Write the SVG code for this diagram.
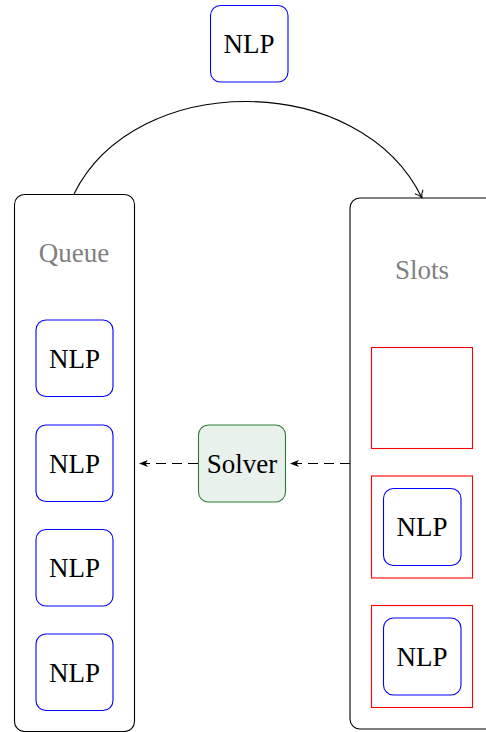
<svg xmlns="http://www.w3.org/2000/svg" width="486" height="732" viewBox="0 0 486 732">
<style>
.cont{fill:#fff;stroke:#000;stroke-width:1.1}
.nlp{fill:#fff;stroke:#0000ff;stroke-width:1.1}
.slot{fill:none;stroke:#ff0000;stroke-width:1.1}
.t{font-family:"Liberation Serif","Times New Roman",serif;font-size:27px;text-anchor:middle;fill:#000}
.lbl{fill:#808080}
.dash{fill:none;stroke:#000;stroke-width:1.1;stroke-dasharray:10 6}
</style>
<defs>
<marker id="open" markerWidth="14" markerHeight="14" refX="10" refY="7" orient="auto" markerUnits="userSpaceOnUse">
<path d="M3,2.5 Q6,6 10,7 Q6,8 3,11.5" fill="none" stroke="#000" stroke-width="1"/>
</marker>
<marker id="stealth" markerWidth="12" markerHeight="10" refX="9" refY="5" orient="auto" markerUnits="userSpaceOnUse">
<path d="M0,1.5 L9,5 L0,8.5 L2.5,5 Z" fill="#000"/>
</marker>
</defs>
<g id="queue">
<rect class="cont" x="14.5" y="194.5" width="120" height="537" rx="10"/>
<text class="t lbl" x="74" y="262">Queue</text>
</g>
<g id="slots">
<rect class="cont" x="350" y="198" width="145" height="531" rx="10"/>
<text class="t lbl" x="422" y="279">Slots</text>
</g>
<g id="slot1"><rect class="slot" x="371.5" y="347.5" width="101" height="101"/></g>
<g id="slot2"><rect class="slot" x="371.5" y="476" width="101" height="102"/></g>
<g id="slot3"><rect class="slot" x="371.5" y="605.5" width="101" height="102"/></g>
<g id="nlp-top">
<rect class="nlp" x="210.5" y="5.5" width="77.5" height="76.5" rx="10"/>
<text class="t" x="249" y="53">NLP</text>
</g>
<g id="q1"><rect class="nlp" x="36" y="320" width="77" height="76.5" rx="10"/><text class="t" x="74.5" y="367.5">NLP</text></g>
<g id="q2"><rect class="nlp" x="36" y="425" width="77" height="76.5" rx="10"/><text class="t" x="74.5" y="472.5">NLP</text></g>
<g id="q3"><rect class="nlp" x="36" y="529.5" width="77" height="76.5" rx="10"/><text class="t" x="74.5" y="577">NLP</text></g>
<g id="q4"><rect class="nlp" x="36" y="634" width="77" height="76.5" rx="10"/><text class="t" x="74.5" y="681.5">NLP</text></g>
<g id="s2"><rect class="nlp" x="383.5" y="488.5" width="77.5" height="77" rx="10"/><text class="t" x="422" y="536">NLP</text></g>
<g id="s3"><rect class="nlp" x="383.5" y="618" width="77.5" height="77" rx="10"/><text class="t" x="422" y="665.5">NLP</text></g>
<g id="solver">
<rect x="198.5" y="425" width="87" height="77" rx="10" fill="#e8f1eb" stroke="#2f7d32" stroke-width="1.1"/>
<text class="t" x="242" y="473">Solver</text>
</g>
<g id="connectors">
<path d="M74,194 C135,70 360,70 422,198" fill="none" stroke="#000" stroke-width="1.1" marker-end="url(#open)"/>
<line class="dash" x1="350" y1="463.5" x2="290" y2="463.5" marker-end="url(#stealth)"/>
<line class="dash" x1="198" y1="463.5" x2="139" y2="463.5" marker-end="url(#stealth)"/>
</g>
</svg>
